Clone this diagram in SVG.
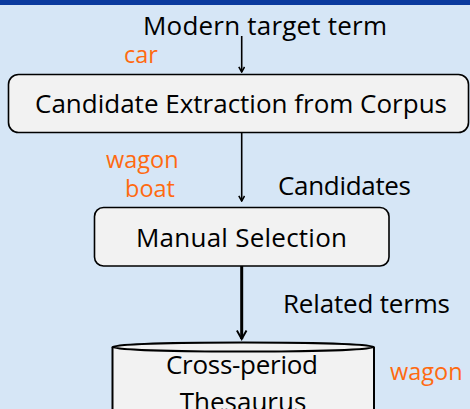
<svg xmlns="http://www.w3.org/2000/svg" width="470" height="409" viewBox="0 0 470 409">
<defs>
<style>
.t{font-family:"Open Sans","Noto Sans","Liberation Sans",sans-serif;font-size:26px;fill:#000}
.o{fill:#ff6a10;font-size:23.5px}
.box{fill:#f2f2f2;stroke:#000;stroke-width:1.6}
.ln{stroke:#000;stroke-width:1.6;fill:none}
.lnb{stroke:#000;stroke-width:3;fill:none}
</style>
<marker id="ah" viewBox="0 0 10 10" refX="8" refY="5" markerWidth="4.5" markerHeight="4.5" markerUnits="strokeWidth" orient="auto">
<path d="M1,1 L8,5 L1,9" fill="none" stroke="#000" stroke-width="2.2"/>
</marker>
<marker id="ahb" viewBox="0 0 10 10" refX="8" refY="5" markerWidth="4" markerHeight="4" markerUnits="strokeWidth" orient="auto">
<path d="M1,1 L8,5 L1,9" fill="none" stroke="#000" stroke-width="1.6"/>
</marker>
</defs>
<rect x="0" y="0" width="470" height="409" fill="#d6e6f6"/>
<rect x="0" y="0" width="470" height="5" fill="#0b3a9e"/>

<g id="connectors">
<line class="ln" x1="241.7" y1="36" x2="241.7" y2="72" marker-end="url(#ah)"/>
<line class="ln" x1="241.7" y1="133" x2="241.7" y2="201" marker-end="url(#ah)"/>
<line class="lnb" x1="241.7" y1="266" x2="241.7" y2="339" marker-end="url(#ahb)"/>
</g>

<g id="input">
<text class="t" x="265" y="35" text-anchor="middle" textLength="244">Modern target term</text>
<text class="t o" x="124" y="63">car</text>
</g>

<g id="extraction">
<rect class="box" x="8.5" y="74.5" width="460" height="58" rx="10"/>
<text class="t" x="241" y="113" text-anchor="middle" textLength="412">Candidate Extraction from Corpus</text>
</g>

<g id="candidates-label">
<text class="t o" x="106" y="168">wagon</text>
<text class="t o" x="125" y="197">boat</text>
<text class="t" x="278" y="195" textLength="133">Candidates</text>
</g>

<g id="selection">
<rect class="box" x="94.5" y="207.5" width="294.5" height="58.5" rx="9"/>
<text class="t" x="241.5" y="247" text-anchor="middle" textLength="211">Manual Selection</text>
</g>

<g id="related-label">
<text class="t" x="283" y="313" textLength="167">Related terms</text>
</g>

<g id="thesaurus">
<path d="M112.5,347 L112.5,420 L374,420 L374,347" fill="#f2f2f2" stroke="#000" stroke-width="2"/>
<ellipse cx="243.2" cy="347" rx="130.7" ry="4.5" fill="#f2f2f2" stroke="#000" stroke-width="2"/>
<text class="t" x="242" y="374" text-anchor="middle" textLength="152">Cross-period</text>
<text class="t" x="243" y="411" text-anchor="middle">Thesaurus</text>
</g>

<g id="output">
<text class="t o" x="390" y="380">wagon</text>
</g>
</svg>
